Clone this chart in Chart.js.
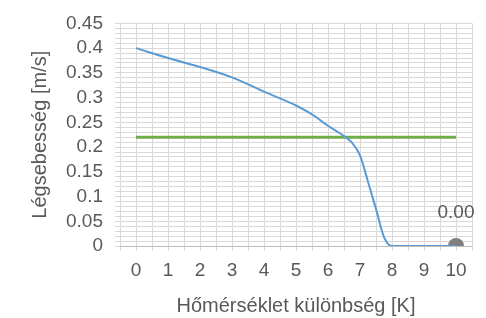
<!DOCTYPE html>
<html>
<head>
<meta charset="utf-8">
<script src="https://cdn.jsdelivr.net/npm/chart.js@4/dist/chart.umd.min.js"></script>
<style>
html,body{margin:0;padding:0;background:#fff;}
#wrap{width:486px;height:318px;}
</style>
</head>
<body>
<div id="wrap"><canvas id="c" width="486" height="318"></canvas></div>
<script>
const curveX = [0, 1, 2, 3, 4, 5, 5.5, 6, 6.5, 6.75, 7, 7.25, 7.5, 7.75, 8, 9, 10];
const curveY = [0.40, 0.38, 0.362, 0.341, 0.312, 0.284, 0.266, 0.243, 0.222, 0.209, 0.183, 0.13, 0.075, 0.018, 0, 0, 0];
const limitX = [0, 10];
const limitY = [0.22, 0.22];
const markerX = [10];
const markerY = [0];
const markerLabels = ['0.00'];
const xTitle = 'Hőmérséklet különbség [K]';
const yTitle = 'Légsebesség [m/s]';

const toPts = (xs, ys) => xs.map((x, i) => ({x: x, y: ys[i]}));
const FONT = "'Liberation Sans', Arial, sans-serif";
const TXT = '#595959';
const GRID = '#d9d9d9';

const labelPlugin = {
  id: 'pointLabel',
  afterDatasetsDraw(chart) {
    const meta = chart.getDatasetMeta(2);
    const ctx = chart.ctx;
    ctx.save();
    ctx.font = '19px ' + FONT;
    ctx.fillStyle = TXT;
    ctx.textAlign = 'center';
    ctx.textBaseline = 'middle';
    meta.data.forEach((el, i) => {
      ctx.fillText(markerLabels[i], el.x, el.y - 33);
    });
    ctx.restore();
  }
};

new Chart(document.getElementById('c'), {
  type: 'scatter',
  data: {
    datasets: [
      {
        data: toPts(curveX, curveY),
        showLine: true,
        borderColor: '#5b9bd5',
        borderWidth: 2,
        pointRadius: 0,
        cubicInterpolationMode: 'monotone'
      },
      {
        data: toPts(limitX, limitY),
        showLine: true,
        borderColor: '#70ad47',
        borderWidth: 3,
        pointRadius: 0
      },
      {
        data: toPts(markerX, markerY),
        showLine: false,
        backgroundColor: '#808080',
        borderColor: '#808080',
        borderWidth: 0,
        pointRadius: 8,
        clip: 0
      }
    ]
  },
  options: {
    responsive: false,
    animation: false,
    events: [],
    layout: {padding: {left: 0, right: 14, top: 19, bottom: 0}},
    plugins: {legend: {display: false}, tooltip: {enabled: false}},
    scales: {
      x: {
        type: 'linear',
        min: -0.5,
        max: 10.5,
        afterFit(s) { s.height = 72; },
        afterBuildTicks(s) {
          const t = [];
          for (let i = -1; i <= 21; i++) t.push({value: i / 2});
          s.ticks = t;
        },
        ticks: {
          autoSkip: false,
          maxRotation: 0,
          padding: 8,
          color: TXT,
          font: {family: FONT, size: 19},
          callback: (v) => (Math.abs(v - Math.round(v)) < 1e-6 && v >= 0 && v <= 10) ? String(Math.round(v)) : ''
        },
        grid: {color: GRID, tickLength: 5, lineWidth: 1},
        border: {color: '#bfbfbf'},
        title: {display: true, text: xTitle, color: TXT, font: {family: FONT, size: 20}, padding: {top: 0, bottom: 0}}
      },
      y: {
        type: 'linear',
        min: 0,
        max: 0.45,
        afterFit(s) { s.width = 120; },
        afterBuildTicks(s) {
          const t = [];
          for (let i = 0; i <= 45; i++) t.push({value: i / 100});
          s.ticks = t;
        },
        ticks: {
          autoSkip: false,
          padding: 12,
          color: TXT,
          font: {family: FONT, size: 19},
          callback: (v) => {
            const k = Math.round(v * 100);
            return k % 5 === 0 ? String(parseFloat((k / 100).toFixed(2))) : '';
          }
        },
        grid: {color: GRID, tickLength: 5, lineWidth: 1},
        border: {display: false},
        title: {display: true, text: yTitle, color: TXT, font: {family: FONT, size: 20}, padding: {top: 28, bottom: 0}}
      }
    }
  },
  plugins: [labelPlugin]
});
</script>
</body>
</html>
